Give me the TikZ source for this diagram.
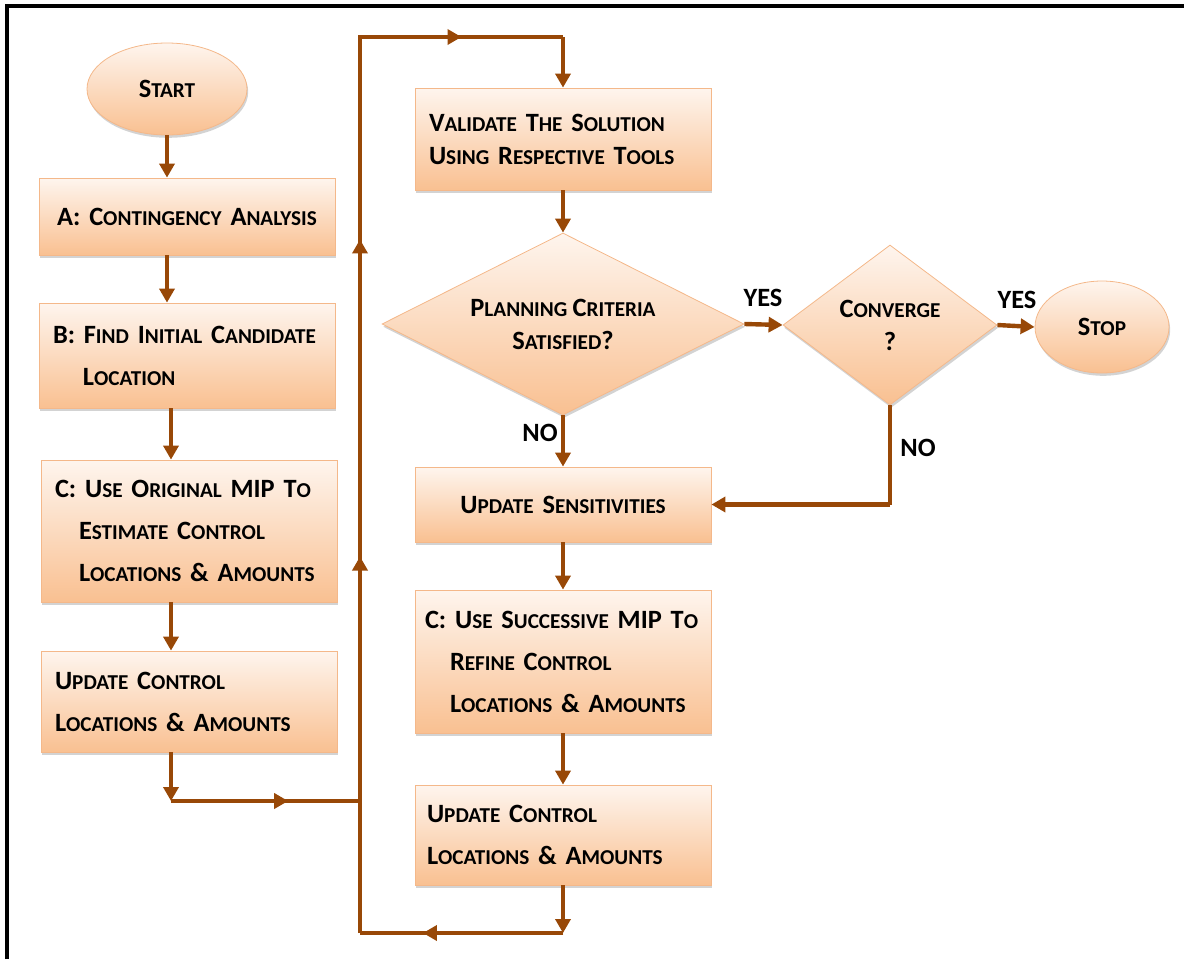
\documentclass[tikz,border=0pt]{standalone}
\usepackage{fontspec}
\setmainfont{Carlito}
\usetikzlibrary{shapes.geometric,arrows.meta,shadows,calc}

\definecolor{linkbrown}{RGB}{152,72,7}
\definecolor{boxtop}{RGB}{254,245,238}
\definecolor{boxbot}{RGB}{249,192,145}
\definecolor{boxline}{RGB}{244,184,138}

% fake small caps: big first letter, smaller capitals after it
\newcommand\lo[1]{{\fontsize{10.6pt}{12pt}\selectfont\MakeUppercase{#1}}}
\newcommand\boxfont[1]{\bfseries\fontsize{13.2pt}{#1}\selectfont
    \spaceskip=2.7pt plus 1pt minus 0.5pt\relax}

\tikzstyle{shaded}=[draw=boxline, thin, top color=boxtop, bottom color=boxbot,
    drop shadow={opacity=0.35, shadow xshift=0.6pt, shadow yshift=-1.4pt},
    font=\boxfont{21pt}]
\tikzstyle{proc}=[shaded, rectangle, text width=138pt, inner xsep=5pt, align=left]
\tikzstyle{term}=[shaded, ellipse, inner sep=0pt]
\tikzstyle{decide}=[shaded, diamond, inner sep=0pt, align=center, font=\boxfont{16.5pt}]
\tikzstyle{answer}=[font=\boxfont{16pt}]
\tikzstyle{link}=[draw=linkbrown, line width=2.2pt]
\tikzstyle{arrow}=[link, -{Triangle[length=7pt, width=7.5pt]}]

\begin{document}
\begin{tikzpicture}[x=0.5pt, y=-0.5pt]
    \useasboundingbox (0,0) rectangle (1184,959);
% Frame
    \draw[line width=2pt] (6.5,959) -- (6.5,6) -- (1184,6);
% Left column
    \node[term, minimum width=80pt, minimum height=46pt] (start) at (167,89) {S\lo{tart}};
    \node[proc, align=center, minimum height=38.5pt] (ca) at (187,216.5)
        {A: C\lo{ontingency} A\lo{nalysis}};
    \node[proc, minimum height=52.5pt] (cb) at (187,355.5)
        {\hspace*{2pt}B: F\lo{ind} I\lo{nitial} C\lo{andidate}\\ \hspace*{17pt}L\lo{ocation}};
    \node[proc, minimum height=71pt] (cc) at (189,531)
        {\hspace*{2pt}C: U\lo{se} O\lo{riginal} MIP T\lo{o}\\ \hspace*{14pt}E\lo{stimate} C\lo{ontrol}\\
         \hspace*{14pt}L\lo{ocations} \& A\lo{mounts}};
    \node[proc, minimum height=50.5pt] (ua) at (189,701.5)
        {\hspace*{2pt}U\lo{pdate} C\lo{ontrol}\\ \hspace*{2pt}L\lo{ocations} \& A\lo{mounts}};
% Right column
    \node[proc, minimum height=51pt, font=\boxfont{16.5pt}] (vd) at (563,139)
        {\hspace*{2pt}V\lo{alidate} T\lo{he} S\lo{olution}\\ \hspace*{2pt}U\lo{sing} R\lo{espective} T\lo{ools}};
    \node[decide, aspect=2, minimum width=181pt, minimum height=91pt] (d1) at (563,324)
        {P\lo{lanning} C\lo{riteria}\\ S\lo{atisfied}?};
    \node[decide, aspect=1.35, minimum width=107pt, minimum height=80pt] (d2) at (890,325)
        {C\lo{onverge}\\ ?};
    \node[term, minimum width=67pt, minimum height=46pt] (stop) at (1102,327) {S\lo{top}};
    \node[proc, align=center, minimum height=37.5pt] (us) at (563,504.5)
        {U\lo{pdate} S\lo{ensitivities}};
    \node[proc, minimum height=71.5pt] (cs) at (563,661.5)
        {C: U\lo{se} S\lo{uccessive} MIP T\lo{o}\\ \hspace*{12.5pt}R\lo{efine} C\lo{ontrol}\\
         \hspace*{12.5pt}L\lo{ocations} \& A\lo{mounts}};
    \node[proc, minimum height=50pt] (ub) at (563,835)
        {\hspace*{1pt}U\lo{pdate} C\lo{ontrol}\\ \hspace*{1pt}L\lo{ocations} \& A\lo{mounts}};
% Answers
    \node[answer] (yes1) at (763,298) {YES};
    \node[answer] (yes2) at (1017,300) {YES};
    \node[answer] (no1) at (540,433) {NO};
    \node[answer] (no2) at (918,448) {NO};
% Loop corners
    \coordinate (l1) at (171,801);
    \coordinate (l2) at (360,801);
    \coordinate (l3) at (360,37);
    \coordinate (l4) at (563,37);
    \coordinate (r1) at (563,933);
    \coordinate (r2) at (360,933);
% Straight flow
    \draw[arrow] (start.south) -- (ca.north -| start.south);
    \draw[arrow] (ca.south -| start.south) -- (cb.north -| start.south);
    \draw[arrow] (cb.south -| l1) -- (cc.north -| l1);
    \draw[arrow] (cc.south -| l1) -- (ua.north -| l1);
    \draw[arrow] (vd.south) -- (d1.north);
    \draw[arrow] (d1.east) -- (d2.west);
    \draw[arrow] (d2.east) -- (stop.west);
    \draw[arrow] (d1.south) -- (us.north);
    \draw[link] (d2.south) -- (d2.south |- us.east);
    \draw[arrow] (d2.south |- us.east) -- (us.east);
    \draw[arrow] (us.south) -- (cs.north);
    \draw[arrow] (cs.south) -- (ub.north);
% Loop back to validation
    \draw[arrow] (ua.south -| l1) -- (l1);
    \draw[link] (l1) -- (l2);
    \draw[arrow] (l1) -- ($(l1)!0.62!(l2)$);
    \draw[link] (r2) -- (l3) -- (l4);
    \draw[arrow] (l2) -- ($(l2)!0.32!(l3)$);
    \draw[arrow] (l2) -- ($(l2)!0.735!(l3)$);
    \draw[arrow] (l3) -- ($(l3)!0.5!(l4)$);
    \draw[arrow] (l4) -- (vd.north);
    \draw[arrow] (ub.south) -- (r1);
    \draw[link] (r1) -- (r2);
    \draw[arrow] (r1) -- ($(r1)!0.69!(r2)$);
\end{tikzpicture}
\end{document}
